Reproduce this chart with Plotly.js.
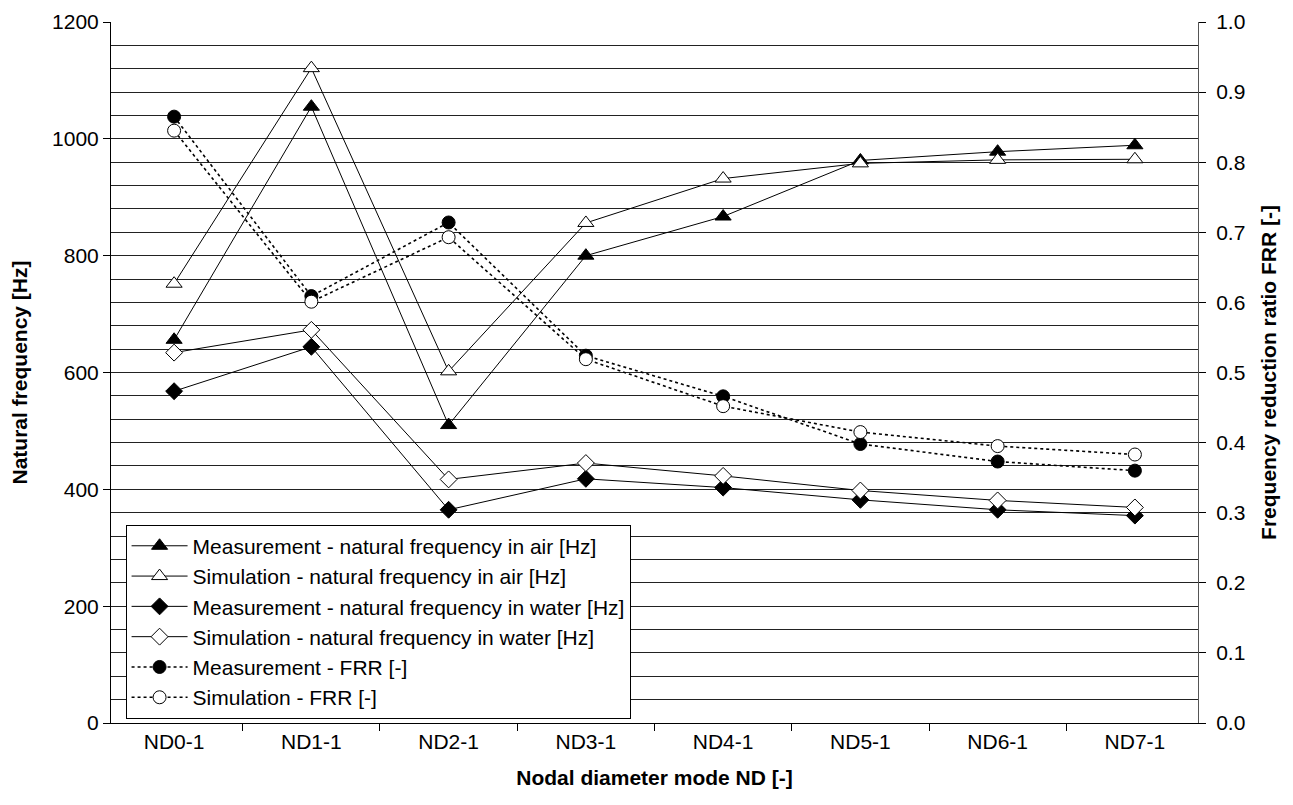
<!DOCTYPE html>
<html>
<head>
<meta charset="utf-8">
<script src="https://cdn.plot.ly/plotly-3.0.1.min.js"></script>
<style>html,body{margin:0;padding:0;background:#fff;}#chart{width:1293px;height:805px;}</style>
</head>
<body>
<div id="chart"></div>
<script>
const categories = ["ND0-1","ND1-1","ND2-1","ND3-1","ND4-1","ND5-1","ND6-1","ND7-1"];
const measAir   = [656, 1055, 510, 800, 867, 963, 978, 989];
const simAir    = [752, 1121, 602, 856, 932, 958, 964, 965];
const measWater = [568, 644, 365, 418, 403, 382, 365, 355];
const simWater  = [634, 673, 417, 445, 423, 398, 381, 369];
const measFRR   = [0.865, 0.609, 0.714, 0.524, 0.466, 0.398, 0.373, 0.360];
const simFRR    = [0.845, 0.601, 0.693, 0.519, 0.452, 0.415, 0.395, 0.383];
const names = [
  "Measurement - natural frequency in air [Hz]",
  "Simulation - natural frequency in air [Hz]",
  "Measurement - natural frequency in water [Hz]",
  "Simulation - natural frequency in water [Hz]",
  "Measurement - FRR [-]",
  "Simulation - FRR [-]"
];

function tr(y, name, symbol, filled, size, dash, axis, grp) {
  return {
    x: categories, y: y, name: name, type: "scatter", mode: "lines+markers",
    yaxis: axis, legendgroup: grp,
    line: {color: "#000", width: dash === "solid" ? 1 : 1.6, dash: dash},
    marker: {symbol: symbol, size: size, color: filled ? "#000" : "#fff",
             line: {color: "#000", width: 1}}
  };
}
const data = [
  tr(measAir, names[0], "triangle-up", true, 14, "solid", "y", "a"),
  tr(simAir, names[1], "triangle-up", false, 14, "solid", "y", "b"),
  tr(measWater, names[2], "diamond", true, 13, "solid", "y", "c"),
  tr(simWater, names[3], "diamond", false, 13, "solid", "y", "d"),
  tr(measFRR, names[4], "circle", true, 13, "dot", "y2", "e"),
  tr(simFRR, names[5], "circle", false, 13, "dot", "y2", "f")
];

const F = "Liberation Sans, Arial, sans-serif";
const layout = {
  width: 1293, height: 805,
  paper_bgcolor: "#fff", plot_bgcolor: "#fff",
  margin: {l: 111, r: 95, t: 22, b: 82},
  font: {family: F, size: 21, color: "#000"},
  showlegend: true,
  legend: {
    x: 0.0134, y: 0.283, xanchor: "left", yanchor: "top",
    bgcolor: "#fff", bordercolor: "#000", borderwidth: 1,
    font: {family: F, size: 21, color: "#000"},
    tracegroupgap: 0, itemwidth: 56
  },
  xaxis: {
    type: "category", tickson: "boundaries", ticks: "outside", ticklen: 7,
    tickcolor: "#000", showline: true, linecolor: "#000", linewidth: 1,
    showgrid: false, zeroline: false,
    tickfont: {family: F, size: 21},
    title: {text: "<b>Nodal diameter mode ND [-]</b>", font: {family: F, size: 21}, standoff: 18}
  },
  yaxis: {
    range: [0, 1200], dtick: 200, ticks: "outside", ticklen: 7, tickcolor: "#000",
    showline: true, linecolor: "#000", linewidth: 1, mirror: false,
    showgrid: true, gridcolor: "#222", gridwidth: 1, zeroline: false,
    minor: {dtick: 40, showgrid: true, gridcolor: "#222", gridwidth: 1, ticks: ""},
    tickfont: {family: F, size: 21},
    title: {text: "<b>Natural frequency [Hz]</b>", font: {family: F, size: 21}, standoff: 18}
  },
  yaxis2: {
    overlaying: "y", side: "right", range: [0, 1], dtick: 0.1, tickformat: ".1f",
    ticks: "outside", ticklen: 7, tickcolor: "#000", ticklabelstandoff: 6,
    showline: true, linecolor: "#555", linewidth: 1, showgrid: false, zeroline: false,
    tickfont: {family: F, size: 21},
    title: {text: "<b>Frequency reduction ratio FRR [-]</b>", font: {family: F, size: 21}, standoff: 16}
  }
};
Plotly.newPlot("chart", data, layout, {displayModeBar: false, staticPlot: true});
</script>
</body>
</html>
